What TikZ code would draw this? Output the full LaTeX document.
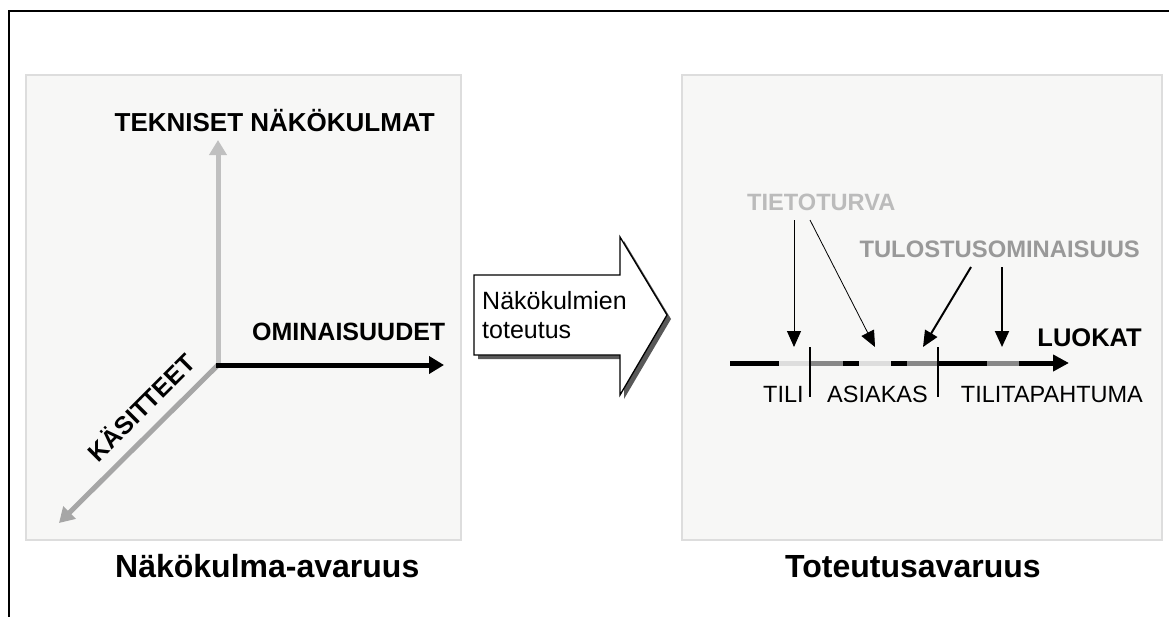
\documentclass[tikz,border=0pt]{standalone}
\usepackage{fontspec}
\setmainfont{Liberation Sans}
\usetikzlibrary{arrows.meta}
\definecolor{panelfill}{HTML}{F7F7F6}
\definecolor{panelline}{HTML}{DDDDDD}
\definecolor{axgray}{HTML}{C0C0C0}
\definecolor{axgray2}{HTML}{A6A6A6}
\definecolor{lightseg}{HTML}{DDDDDD}
\definecolor{darkseg}{HTML}{888888}
\definecolor{tietogray}{HTML}{BBBBBB}
\definecolor{tulosgray}{HTML}{999999}
\tikzset{
  panel/.style={fill=panelfill, draw=panelline, line width=2pt},
  boldlbl/.style={font=\fontsize{25}{29}\selectfont\bfseries, inner sep=0pt},
  plainlbl/.style={font=\fontsize{23.5}{27}\selectfont, inner sep=0pt},
  caplbl/.style={font=\fontsize{32}{36}\selectfont\bfseries, inner sep=0pt},
  axis/.style={line width=5pt, -{Triangle[width=17pt,length=15pt]}},
  segline/.style={line width=5pt},
  pointer/.style={-{Triangle[width=14pt,length=16pt]}},
}
\begin{document}
\begin{tikzpicture}[x=1pt,y=-1pt]
\useasboundingbox (0,0) rectangle (1169,616);
\clip (0,0) rectangle (1169,616);
% outer frame (open right & bottom)
\draw[line width=2pt] (8.5,640) -- (8.5,10.5) -- (1190,10.5);
% panels
\draw[panel] (26,75) rectangle (461,540);
\draw[panel] (682,75) rectangle (1162,540);

% ---------- left: axes ----------
\coordinate (O) at (218,365);
\coordinate (up) at (218,140);
\coordinate (rt) at (444,365);
\coordinate (dl) at (59,523);
\draw[axis, axgray] (O) -- (up);
\draw[axis, axgray2] (O) -- (dl);
\draw[axis, black] ([xshift=-2.5pt]O) -- (rt);
\node[boldlbl, font=\fontsize{26}{30}\selectfont\bfseries, anchor=base east] (tek) at (435,131) {TEKNISET NÄKÖKULMAT};
\node[boldlbl, anchor=base west] (omi) at (252,340) {OMINAISUUDET};
\node[boldlbl, rotate=45, anchor=base] (kas) at (148,414) {KÄSITTEET};
\node[caplbl, anchor=base west] (cap1) at (115,577) {Näkökulma-avaruus};

% ---------- middle: block arrow ----------
\fill[black!65] (478,279) -- (624,279) -- (624,241) -- (671,319) -- (624,399) -- (624,359) -- (478,359) -- cycle;
\draw[fill=white, line width=1.3pt] (474,275) -- (620,275) -- (620,237) -- (667,315) -- (620,395) -- (620,355) -- (474,355) -- cycle;
\node[anchor=base west, inner sep=0pt, font=\fontsize{25}{29}\selectfont] (mid1) at (482,309) {Näkökulmien};
\node[anchor=base west, inner sep=0pt, font=\fontsize{25}{29}\selectfont] (mid2) at (482,338) {toteutus};

% ---------- right: timeline ----------
\draw[segline, black] (730,363) -- (779,363);
\draw[segline, lightseg] (779,363) -- (810,363);
\draw[segline, darkseg] (810,363) -- (843,363);
\draw[segline, black] (843,363) -- (859,363);
\draw[segline, lightseg] (859,363) -- (891,363);
\draw[segline, black] (891,363) -- (907,363);
\draw[segline, darkseg] (907,363) -- (938,363);
\draw[segline, black] (938,363) -- (987,363);
\draw[segline, darkseg] (987,363) -- (1019,363);
\coordinate (lstart) at (1019,363);
\coordinate (lend) at (1069,363);
\draw[segline, black, -{Triangle[width=16pt,length=16pt]}] (lstart) -- (lend);
% separators
\draw[line width=1.2pt] (810,347) -- (810,397);
\draw[line width=1.2pt] (938,347) -- (938,397);
% labels
\node[boldlbl, font=\fontsize{25.5}{29}\selectfont\bfseries, anchor=base east] (luokat) at (1142,346) {LUOKAT};
\node[plainlbl, anchor=base west] (tili) at (763,402) {TILI};
\node[plainlbl, anchor=base west] (asiakas) at (827,402) {ASIAKAS};
\node[plainlbl, anchor=base east] (tilitap) at (1143,402) {TILITAPAHTUMA};
\node[boldlbl, text=tietogray, font=\fontsize{23.6}{27}\selectfont\bfseries, anchor=base west] (tieto) at (747,210) {TIETOTURVA};
\node[boldlbl, text=tulosgray, font=\fontsize{23.8}{27}\selectfont\bfseries, anchor=base east] (tulos) at (1140,257) {TULOSTUSOMINAISUUS};
% pointers
\coordinate (t1s) at (794,220); \coordinate (t1e) at (794,347);
\coordinate (t2s) at (810,220); \coordinate (t2e) at (875,347);
\coordinate (u1s) at (971,267); \coordinate (u1e) at (923,347);
\coordinate (u2s) at (1002,267); \coordinate (u2e) at (1002,347);
\draw[pointer, line width=1pt] (t1s) -- (t1e);
\draw[pointer, line width=0.8pt] (t2s) -- (t2e);
\draw[pointer, line width=2pt] (u1s) -- (u1e);
\draw[pointer, line width=2pt] (u2s) -- (u2e);
\node[caplbl, anchor=base west] (cap2) at (785,577) {Toteutusavaruus};
\end{tikzpicture}
\end{document}
